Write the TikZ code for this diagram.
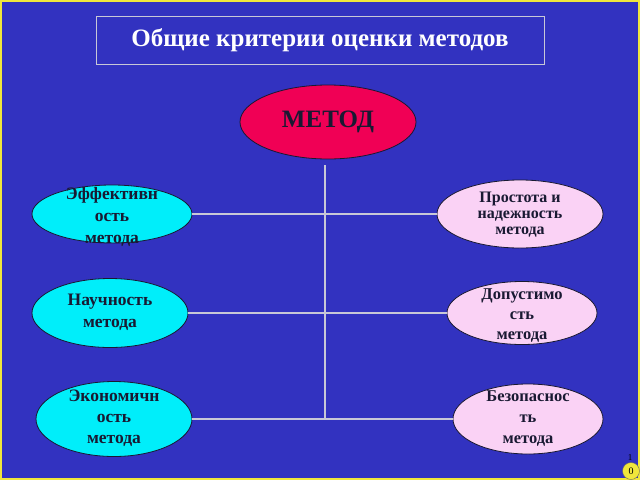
\documentclass[tikz,border=0pt]{standalone}
\usepackage{fontspec}
\setmainfont{Liberation Serif}
\usetikzlibrary{shapes.geometric}
\definecolor{bgblue}{RGB}{50,50,192}
\definecolor{bordery}{RGB}{240,230,60}
\definecolor{metodred}{RGB}{240,0,85}
\definecolor{cyanell}{RGB}{0,238,250}
\definecolor{pinkell}{RGB}{250,210,245}
\definecolor{linegray}{RGB}{200,200,215}
\definecolor{txtdark}{RGB}{25,25,50}
\tikzset{
  ell/.style={ellipse, draw=txtdark, line width=0.8pt, inner sep=0pt},
  leftell/.style={ell, fill=cyanell},
  rightell/.style={ell, fill=pinkell},
  etext/.style={font=\bfseries\fontsize{17.5}{22}\selectfont, text=txtdark, align=center, inner sep=0pt},
  conn/.style={draw=linegray, line width=1.6pt}
}
\begin{document}
\begin{tikzpicture}[x=1pt,y=-1pt]
\useasboundingbox (0,0) rectangle (640,480);
\fill[bgblue] (0,0) rectangle (640,480);
\draw[bordery, line width=2pt] (1,1) rectangle (639,479);
% title
\node[draw=linegray, line width=0.8pt, minimum width=448pt, minimum height=48pt, inner sep=0pt,
      font=\bfseries\fontsize{25}{30}\selectfont, text=white] (title) at (320,40) {Общие критерии оценки методов};
% method
\node[ell, fill=metodred, minimum width=176pt, minimum height=74pt] (metod) at (328,122) {};
\node[font=\bfseries\fontsize{25}{30}\selectfont, text=txtdark] (metodt) at (metod.center) {МЕТОД};
% trunk and junctions
\coordinate (vtop) at (325,165);
\coordinate (j1) at (325,214);
\coordinate (j2) at (325,313);
\coordinate (j3) at (325,419);
\draw[conn] (vtop) -- (j3);
% left ellipses
\node[leftell, minimum width=160pt, minimum height=58pt] (l1) at (112,214) {};
\node[etext] (l1t) at (112,217) {Эффективн\\ость\\метода};
\node[leftell, minimum width=156pt, minimum height=69pt] (l2) at (110,313) {};
\node[etext] (l2t) at (110,312) {Научность\\метода};
\node[leftell, minimum width=156pt, minimum height=75pt] (l3) at (114,419) {};
\node[etext, font=\bfseries\fontsize{17.5}{21}\selectfont] (l3t) at (114,418) {Экономичн\\ость\\метода};
% right ellipses
\node[rightell, minimum width=166pt, minimum height=68pt] (r1) at (520,214) {};
\node[etext, font=\bfseries\fontsize{16}{16}\selectfont] (r1t) at (520,215) {Простота и\\надежность\\метода};
\node[rightell, minimum width=150pt, minimum height=63pt] (r2) at (522,313) {};
\node[etext, font=\bfseries\fontsize{16.5}{20}\selectfont] (r2t) at (522,316) {Допустимо\\сть\\метода};
\node[rightell, minimum width=150pt, minimum height=70pt] (r3) at (528,419) {};
\node[etext, font=\bfseries\fontsize{16.5}{21}\selectfont] (r3t) at (528,419) {Безопаснос\\ть\\метода};
% branches
\draw[conn] (l1) -- (j1) -- (r1);
\draw[conn] (l2) -- (j2) -- (r2);
\draw[conn] (l3) -- (j3) -- (r3);
% page number
\node[circle, fill=bordery, draw=black!60, line width=0.4pt, minimum size=17pt, inner sep=0pt,
      font=\fontsize{10}{10}\selectfont] (pg) at (631,471) {0};
\node[font=\fontsize{9}{9}\selectfont, text=black, inner sep=0pt] (pg1) at (630,458) {1};
\end{tikzpicture}
\end{document}
